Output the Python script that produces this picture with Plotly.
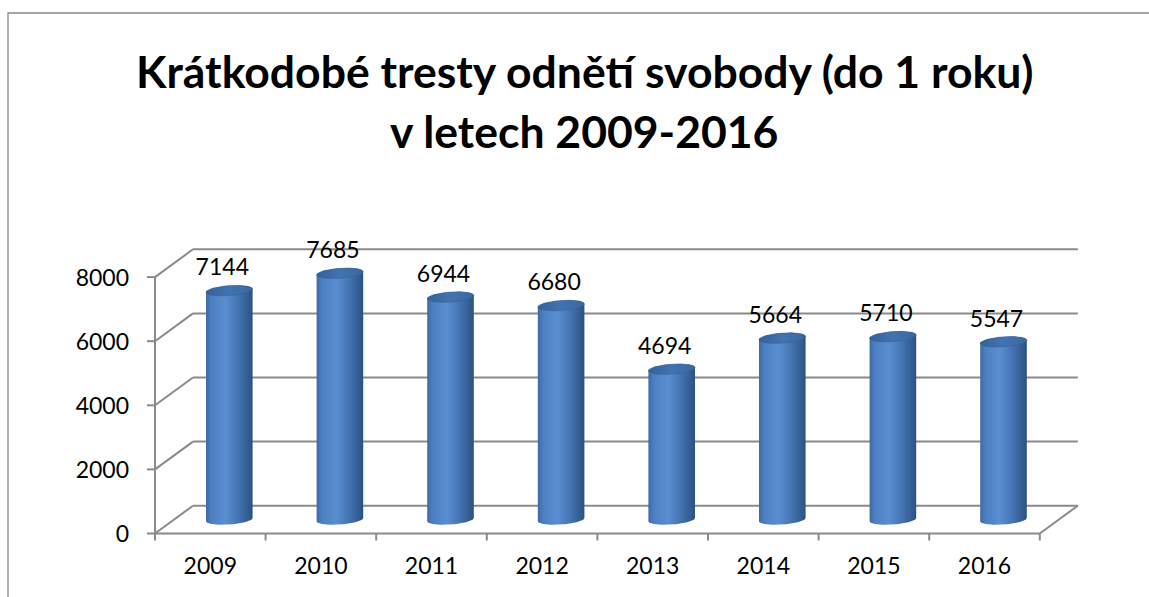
import numpy as np
import plotly.graph_objects as go

# Data
years = ["2009", "2010", "2011", "2012", "2013", "2014", "2015", "2016"]
sentences = [7144, 7685, 6944, 6680, 4694, 5664, 5710, 5547]
y_ticks = [0, 2000, 4000, 6000, 8000]
title_lines = ["Krátkodobé tresty odnětí svobody (do 1 roku)", "v letech 2009-2016"]

W, H = 1149, 597

# Pixel geometry of the oblique (pseudo-3D) projection
X0_PX = 155.0        # front-left corner, x pixel
Y0_PX = 533.5        # front baseline, y pixel
CAT_PX = 110.6       # width of one category in pixels
VAL_PX = 256.4 / 8000.0  # pixels per unit of value

def dx(px):
    return px / CAT_PX

def dy(px):
    return px / VAL_PX

DEPTH_X = dx(38.0)
DEPTH_Y = dy(27.8)

x_range = [(0 - X0_PX) / CAT_PX, (W - X0_PX) / CAT_PX]
y_range = [(Y0_PX - H) / VAL_PX, Y0_PX / VAL_PX]

GRID = "#8A8A8A"
n = len(years)

fig = go.Figure()

def line(xs, ys, color=GRID, width=2.0):
    fig.add_trace(go.Scatter(x=xs, y=ys, mode="lines",
                             line=dict(color=color, width=width),
                             hoverinfo="skip", showlegend=False))

# Back wall gridlines and side wall diagonals
for v in y_ticks:
    line([DEPTH_X, n + DEPTH_X], [v + DEPTH_Y, v + DEPTH_Y])
    line([0, DEPTH_X], [v, v + DEPTH_Y])
# Right edge of the floor
line([n, n + DEPTH_X], [0, DEPTH_Y])

# Cylinders standing at mid depth
radius = dx(23.3)
ry = dy(5.0)
tilt = dy(1.6)
t_low = np.linspace(np.pi, 2 * np.pi, 60)
t_up = np.linspace(0, np.pi, 60)
t_all = np.linspace(0, 2 * np.pi, 120)

body_scale = [[0.0, "#3F6AA2"], [0.12, "#4D80C2"], [0.42, "#5A8ED2"],
              [0.72, "#4271AE"], [1.0, "#2C5182"]]
cap_scale = [[0.0, "#36619A"], [0.5, "#4273B1"], [1.0, "#3A679F"]]

label_x, label_y = [], []
for i, v in enumerate(sentences):
    cx = i + 0.5 + DEPTH_X / 2
    yb = DEPTH_Y / 2
    yt = v + DEPTH_Y / 2
    xl, xr = cx - radius, cx + radius

    def ell(t, yc):
        return cx + radius * np.cos(t), yc + ry * np.sin(t) + tilt * np.cos(t)

    bx, by = ell(t_low, yb)
    tx, ty = ell(t_up, yt)
    xs = np.concatenate([bx, tx])
    ys = np.concatenate([by, ty])
    fig.add_trace(go.Scatter(
        x=xs, y=ys, mode="lines", fill="toself",
        line=dict(width=0, color="#3A659E"),
        fillgradient=dict(type="horizontal", colorscale=body_scale,
                          start=xl, stop=xr),
        hoverinfo="skip", showlegend=False))
    cxs, cys = ell(t_all, yt)
    fig.add_trace(go.Scatter(
        x=cxs, y=cys, mode="lines", fill="toself",
        line=dict(width=0.6, color="#34609A"),
        fillgradient=dict(type="horizontal", colorscale=cap_scale,
                          start=xl, stop=xr),
        hoverinfo="skip", showlegend=False))
    label_x.append(cx - dx(7))
    label_y.append(yt + dy(21))

LABEL_FONT = dict(family="Lato", size=23, color="#000000")

# Value labels
fig.add_trace(go.Scatter(
    x=label_x, y=label_y, mode="text",
    text=[str(v) for v in sentences], textposition="middle center",
    textfont=LABEL_FONT, hoverinfo="skip", showlegend=False, cliponaxis=False))

# Front axes
line([0, 0], [0, y_ticks[-1]])
line([0, n], [0, 0])
for v in y_ticks:
    line([-dx(8), 0], [v, v])
for i in range(n + 1):
    line([i, i], [0, -dy(7)])

# Tick labels
fig.add_trace(go.Scatter(
    x=[-dx(26)] * len(y_ticks), y=[v - dy(3) for v in y_ticks], mode="text",
    text=[str(v) for v in y_ticks], textposition="middle left",
    textfont=LABEL_FONT, hoverinfo="skip", showlegend=False, cliponaxis=False))
fig.add_trace(go.Scatter(
    x=[i + 0.5 for i in range(n)], y=[-dy(35)] * n, mode="text",
    text=years, textposition="middle center",
    textfont=LABEL_FONT, hoverinfo="skip", showlegend=False, cliponaxis=False))

# Title
for txt, ypx in zip(title_lines, [70, 130]):
    fig.add_annotation(
        text=txt, xref="paper", yref="paper", x=584 / W, y=1 - ypx / H,
        xanchor="center", yanchor="middle", showarrow=False,
        font=dict(family="Lato", size=44.5, color="#000000", weight="bold"))

# Chart frame
fig.add_shape(type="path", xref="paper", yref="paper",
              path=f"M {8 / W} 0 L {8 / W} {1 - 13 / H} L 1 {1 - 13 / H}",
              line=dict(color="#888888", width=1.3))

fig.update_layout(
    width=W, height=H, margin=dict(l=0, r=0, t=0, b=0),
    paper_bgcolor="#FFFFFF", plot_bgcolor="#FFFFFF",
    xaxis=dict(range=x_range, visible=False, fixedrange=True),
    yaxis=dict(range=y_range, visible=False, fixedrange=True),
    showlegend=False,
)

fig.write_html("out.html")
